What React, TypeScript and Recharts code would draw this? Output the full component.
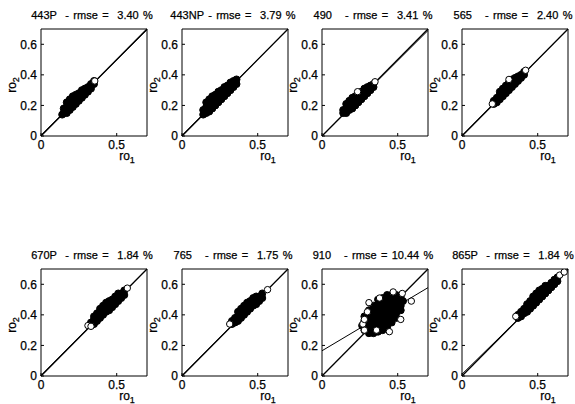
import React from 'react'
import { ScatterChart, Scatter, XAxis, YAxis, ReferenceLine, ReferenceArea } from 'recharts'

type Pt = [number, number]

const BANDS = ['443P', '443NP', '490', '565', '670P', '765', '910', '865P']
const RMSE = [3.4, 3.79, 3.41, 2.4, 1.84, 1.75, 10.44, 1.84]
const X_TICKS = [0, 0.5]
const Y_TICKS = [0, 0.2, 0.4, 0.6]
const AXIS_MAX = 0.7

// dense part of each cloud (drawn solid)
const CORE_443P: Pt[] = [
  [0.14, 0.14], [0.15, 0.15], [0.15, 0.18], [0.17, 0.15], [0.17, 0.19], [0.17, 0.22],
  [0.19, 0.17], [0.19, 0.21], [0.19, 0.24], [0.21, 0.19], [0.21, 0.23], [0.21, 0.26],
  [0.23, 0.21], [0.23, 0.25], [0.23, 0.27], [0.25, 0.23], [0.25, 0.26], [0.25, 0.28],
  [0.27, 0.25], [0.27, 0.28], [0.27, 0.3], [0.29, 0.27], [0.29, 0.3], [0.29, 0.31],
  [0.31, 0.29], [0.31, 0.32], [0.33, 0.31], [0.33, 0.34], [0.35, 0.34], [0.35, 0.36],
]
const CORE_443NP: Pt[] = [
  [0.14, 0.14], [0.14, 0.17], [0.16, 0.15], [0.16, 0.19], [0.16, 0.22], [0.18, 0.16],
  [0.18, 0.2], [0.18, 0.24], [0.2, 0.18], [0.2, 0.22], [0.2, 0.26], [0.22, 0.2],
  [0.22, 0.24], [0.22, 0.27], [0.24, 0.22], [0.24, 0.26], [0.24, 0.29], [0.26, 0.24],
  [0.26, 0.28], [0.26, 0.3], [0.28, 0.26], [0.28, 0.29], [0.28, 0.32], [0.3, 0.28],
  [0.3, 0.31], [0.3, 0.33], [0.32, 0.3], [0.32, 0.33], [0.32, 0.35], [0.34, 0.32],
  [0.34, 0.35], [0.34, 0.36], [0.36, 0.34], [0.36, 0.37],
]
const CORE_490: Pt[] = [
  [0.14, 0.15], [0.14, 0.17], [0.16, 0.15], [0.16, 0.18], [0.16, 0.21], [0.18, 0.17],
  [0.18, 0.2], [0.18, 0.23], [0.2, 0.18], [0.2, 0.22], [0.2, 0.25], [0.22, 0.2],
  [0.22, 0.23], [0.22, 0.26], [0.24, 0.22], [0.24, 0.25], [0.24, 0.27], [0.26, 0.24],
  [0.26, 0.27], [0.26, 0.29], [0.28, 0.26], [0.28, 0.29], [0.28, 0.31], [0.3, 0.28],
  [0.3, 0.31], [0.3, 0.32], [0.32, 0.3], [0.32, 0.33], [0.34, 0.32], [0.34, 0.34],
]
const CORE_565: Pt[] = [
  [0.21, 0.21], [0.21, 0.23], [0.23, 0.22], [0.23, 0.25], [0.25, 0.24], [0.25, 0.27],
  [0.25, 0.29], [0.27, 0.26], [0.27, 0.29], [0.27, 0.31], [0.29, 0.28], [0.29, 0.31],
  [0.29, 0.33], [0.31, 0.3], [0.31, 0.33], [0.31, 0.35], [0.33, 0.32], [0.33, 0.35],
  [0.33, 0.37], [0.35, 0.34], [0.35, 0.36], [0.35, 0.38], [0.37, 0.36], [0.37, 0.38],
  [0.37, 0.39], [0.39, 0.38], [0.39, 0.4], [0.41, 0.4], [0.41, 0.42],
]
const CORE_670P: Pt[] = [
  [0.33, 0.33], [0.33, 0.35], [0.35, 0.34], [0.35, 0.37], [0.35, 0.39], [0.37, 0.36],
  [0.37, 0.39], [0.37, 0.41], [0.39, 0.38], [0.39, 0.41], [0.39, 0.44], [0.41, 0.4],
  [0.41, 0.43], [0.41, 0.46], [0.43, 0.42], [0.43, 0.45], [0.43, 0.48], [0.45, 0.43],
  [0.45, 0.46], [0.45, 0.49], [0.47, 0.45], [0.47, 0.48], [0.47, 0.5], [0.49, 0.47],
  [0.49, 0.5], [0.49, 0.52], [0.51, 0.49], [0.51, 0.52], [0.51, 0.54], [0.53, 0.51],
  [0.53, 0.54], [0.55, 0.53], [0.55, 0.56],
]
const CORE_765: Pt[] = [
  [0.33, 0.34], [0.33, 0.36], [0.35, 0.35], [0.35, 0.38], [0.37, 0.36], [0.37, 0.39],
  [0.37, 0.42], [0.39, 0.38], [0.39, 0.41], [0.39, 0.44], [0.41, 0.4], [0.41, 0.43],
  [0.41, 0.46], [0.43, 0.42], [0.43, 0.45], [0.43, 0.48], [0.45, 0.44], [0.45, 0.47],
  [0.45, 0.49], [0.47, 0.46], [0.47, 0.48], [0.47, 0.51], [0.49, 0.47], [0.49, 0.5],
  [0.49, 0.52], [0.51, 0.49], [0.51, 0.52], [0.53, 0.51], [0.53, 0.54],
]
const CORE_910: Pt[] = [
  [0.265, 0.33],
  [0.28, 0.3], [0.28, 0.33], [0.28, 0.36], [0.28, 0.39],
  [0.31, 0.28], [0.31, 0.31], [0.31, 0.34], [0.31, 0.37], [0.31, 0.4], [0.31, 0.43],
  [0.34, 0.28], [0.34, 0.31], [0.34, 0.34], [0.34, 0.37], [0.34, 0.4], [0.34, 0.43], [0.34, 0.46],
  [0.37, 0.29], [0.37, 0.32], [0.37, 0.35], [0.37, 0.38], [0.37, 0.41], [0.37, 0.44], [0.37, 0.47], [0.37, 0.5],
  [0.4, 0.3], [0.4, 0.33], [0.4, 0.36], [0.4, 0.39], [0.4, 0.42], [0.4, 0.45], [0.4, 0.48], [0.4, 0.51],
  [0.43, 0.32], [0.43, 0.35], [0.43, 0.38], [0.43, 0.41], [0.43, 0.44], [0.43, 0.47], [0.43, 0.5], [0.43, 0.53],
  [0.46, 0.35], [0.46, 0.38], [0.46, 0.41], [0.46, 0.44], [0.46, 0.47], [0.46, 0.5], [0.46, 0.53],
  [0.49, 0.38], [0.49, 0.41], [0.49, 0.44], [0.49, 0.47], [0.49, 0.5], [0.49, 0.53],
  [0.52, 0.43], [0.52, 0.46], [0.52, 0.49], [0.52, 0.52],
  [0.535, 0.49],
]
const CORE_865P: Pt[] = [
  [0.37, 0.38], [0.37, 0.4], [0.39, 0.39], [0.39, 0.42], [0.41, 0.41], [0.41, 0.44],
  [0.43, 0.42], [0.43, 0.45], [0.43, 0.47], [0.45, 0.44], [0.45, 0.47], [0.45, 0.49],
  [0.47, 0.46], [0.47, 0.49], [0.47, 0.52], [0.49, 0.48], [0.49, 0.51], [0.49, 0.54],
  [0.51, 0.5], [0.51, 0.53], [0.51, 0.56], [0.53, 0.52], [0.53, 0.55], [0.53, 0.57],
  [0.55, 0.54], [0.55, 0.57], [0.55, 0.59], [0.57, 0.56], [0.57, 0.59], [0.59, 0.58],
  [0.59, 0.61], [0.61, 0.6], [0.61, 0.63], [0.63, 0.62], [0.63, 0.645],
]

// isolated samples drawn as open circles
const OPEN_443P: Pt[] = [[0.355, 0.36]]
const OPEN_443NP: Pt[] = []
const OPEN_490: Pt[] = [[0.235, 0.29], [0.35, 0.355]]
const OPEN_565: Pt[] = [[0.2, 0.21], [0.31, 0.37], [0.42, 0.43]]
const OPEN_670P: Pt[] = [[0.31, 0.33], [0.33, 0.325], [0.57, 0.575]]
const OPEN_765: Pt[] = [[0.315, 0.34], [0.565, 0.565]]
const OPEN_910: Pt[] = [
  [0.28, 0.3], [0.27, 0.34], [0.28, 0.37], [0.31, 0.48], [0.38, 0.51], [0.53, 0.54],
  [0.59, 0.49], [0.52, 0.37], [0.445, 0.29], [0.36, 0.3], [0.47, 0.55], [0.3, 0.42],
]
const OPEN_865P: Pt[] = [[0.355, 0.39], [0.645, 0.66], [0.675, 0.68]]

// 1:1 line and fitted line end points
const DIAG: Pt[] = [[0, 0], [0.7, 0.7]]
const FIT_443P: Pt[] = [[0, 0.005], [0.7, 0.695]]
const FIT_443NP: Pt[] = [[0, 0.004], [0.7, 0.7]]
const FIT_490: Pt[] = [[0, 0], [0.7, 0.69]]
const FIT_565: Pt[] = [[0, 0.003], [0.7, 0.7]]
const FIT_670P: Pt[] = [[0, 0.004], [0.7, 0.7]]
const FIT_765: Pt[] = [[0, 0.003], [0.7, 0.7]]
const FIT_910: Pt[] = [[0, 0.165], [0.7, 0.578]]
const FIT_865P: Pt[] = [[0, 0.012], [0.7, 0.69]]

const CORES = [CORE_443P, CORE_443NP, CORE_490, CORE_565, CORE_670P, CORE_765, CORE_910, CORE_865P]
const OPENS = [OPEN_443P, OPEN_443NP, OPEN_490, OPEN_565, OPEN_670P, OPEN_765, OPEN_910, OPEN_865P]
const FITS = [FIT_443P, FIT_443NP, FIT_490, FIT_565, FIT_670P, FIT_765, FIT_910, FIT_865P]

const COLS = [41, 182, 322, 462]
const ROWS = [29, 269]
const FONT = '"Liberation Sans", Arial, Helvetica, sans-serif'

const toXY = (pts: Pt[]) => pts.map(([x, y]) => ({ x, y }))

const filledDot = (p: any) => <circle cx={p.cx} cy={p.cy} r={3.5} fill="#000" stroke="#000" />
const openDot = (p: any) => <circle cx={p.cx} cy={p.cy} r={3.2} fill="#fff" stroke="#000" strokeWidth={1} />

const tickStyle = { fill: '#000', fontSize: 12, fontFamily: FONT, stroke: '#000', strokeWidth: 0.25 }
const textBase = { fontFamily: FONT, color: '#000', WebkitTextStroke: '0.25px #000' } as const

function Panel({ i, left, top }: { i: number; left: number; top: number }) {
  const title = `${BANDS[i].padEnd(5)} - rmse = ${RMSE[i].toFixed(2).padStart(5)} %`
  const fit = FITS[i]
  return (
    <>
      <div
        style={{
          ...textBase, position: 'absolute', left: left - 32, top: top - 21, width: 166, lineHeight: '14px',
          textAlign: 'center', fontSize: 11, wordSpacing: 1.3, whiteSpace: 'pre',
        }}
      >
        {title}
      </div>
      <div style={{ position: 'absolute', left: left - 40, top: top - 3 }}>
        <ScatterChart width={151} height={140} margin={{ top: 3, right: 5, left: 0, bottom: 0 }}>
          <XAxis
            type="number" dataKey="x" domain={[0, AXIS_MAX]} ticks={X_TICKS} interval={0}
            allowDataOverflow axisLine={false} tickSize={-3} tickMargin={7} height={30}
            stroke="#000" tick={tickStyle}
          />
          <YAxis
            type="number" dataKey="y" domain={[0, AXIS_MAX]} ticks={Y_TICKS} interval={0}
            allowDataOverflow axisLine={false} tickSize={-3} tickMargin={7} width={40}
            stroke="#000" tick={tickStyle}
          />
          <ReferenceArea x1={0} x2={AXIS_MAX} y1={0} y2={AXIS_MAX} fill="none" stroke="#000" strokeWidth={1} />
          <ReferenceLine
            segment={[{ x: DIAG[0][0], y: DIAG[0][1] }, { x: DIAG[1][0], y: DIAG[1][1] }]}
            stroke="#000" strokeWidth={1.3}
          />
          <ReferenceLine
            segment={[{ x: fit[0][0], y: fit[0][1] }, { x: fit[1][0], y: fit[1][1] }]}
            stroke="#000" strokeWidth={1}
          />
          <Scatter data={toXY(CORES[i])} shape={filledDot} isAnimationActive={false} />
          <Scatter data={toXY(OPENS[i])} shape={openDot} isAnimationActive={false} />
        </ScatterChart>
      </div>
      <div
        style={{
          ...textBase, position: 'absolute', left: left - 44, top: top + 49, width: 30, height: 14,
          lineHeight: '14px', textAlign: 'center', fontSize: 12, transform: 'rotate(-90deg)',
        }}
      >
        ro<span style={{ fontSize: 9, position: 'relative', top: 3 }}>2</span>
      </div>
      <div
        style={{
          ...textBase, position: 'absolute', left: left + 71, top: top + 120, width: 30,
          lineHeight: '14px', textAlign: 'center', fontSize: 12,
        }}
      >
        ro<span style={{ fontSize: 9, position: 'relative', top: 3 }}>1</span>
      </div>
    </>
  )
}

export default function App() {
  return (
    <div style={{ position: 'absolute', left: 0, top: 0, width: 575, height: 404, background: '#fff' }}>
      {BANDS.map((b, i) => (
        <Panel key={b} i={i} left={COLS[i % 4]} top={ROWS[Math.floor(i / 4)]} />
      ))}
    </div>
  )
}
